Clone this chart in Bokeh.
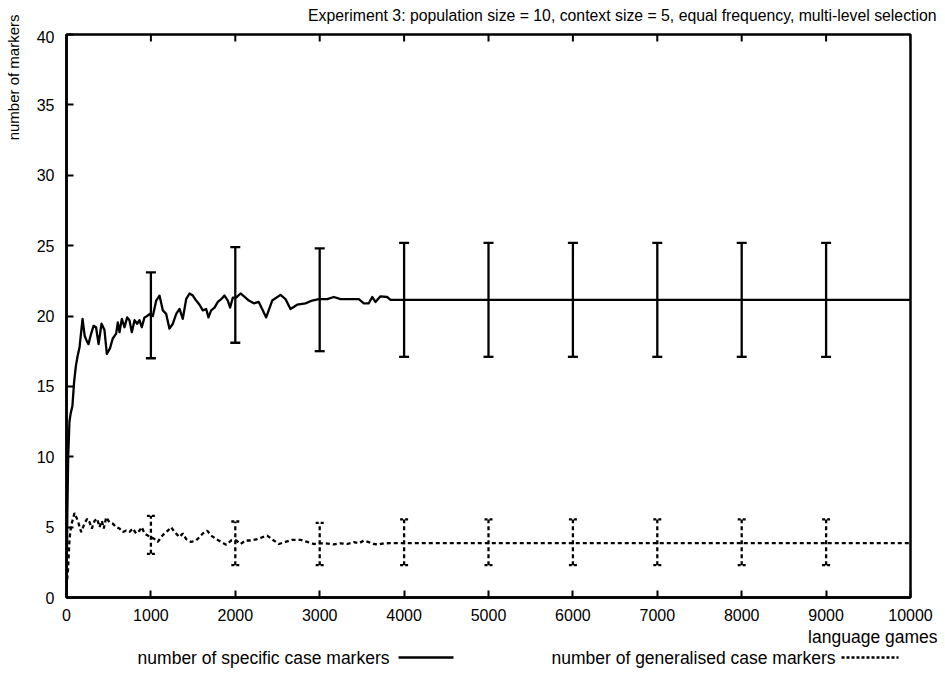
import numpy as np
from bokeh.plotting import figure
from bokeh.models import (Range1d, FixedTicker, Whisker, ColumnDataSource, TeeHead)
from bokeh.layouts import column, row
from bokeh.core.properties import value
from bokeh.embed import file_html
from bokeh.resources import INLINE

FONT = "Liberation Sans"

title_text = "Experiment 3: population size = 10, context size = 5, equal frequency, multi-level selection"
x_label = "language games"
y_label = "number of markers"
series_names = ["number of specific case markers", "number of generalised case markers"]

x_ticks = [0, 1000, 2000, 3000, 4000, 5000, 6000, 7000, 8000, 9000, 10000]
y_ticks = [0, 5, 10, 15, 20, 25, 30, 35, 40]

spec_x = [0, 10, 20, 35, 50, 70, 90, 110, 130, 155,
          190, 215, 235, 260, 290, 320, 350, 380, 415, 450,
          478, 515, 548, 588, 608, 628, 656, 687, 719, 746,
          774, 806, 837, 865, 892, 924, 956, 987, 1023, 1063,
          1102, 1141, 1181, 1220, 1260, 1300, 1339, 1378, 1418, 1457,
          1497, 1536, 1576, 1615, 1655, 1682, 1714, 1754, 1793, 1833,
          1872, 1911, 1939, 1970, 2010, 2062, 2121, 2160, 2219, 2278,
          2318, 2366, 2437, 2536, 2595, 2654, 2733, 2832, 2911, 2990,
          3089, 3168, 3246, 3325, 3365, 3464, 3523, 3582, 3622, 3661,
          3720, 3799, 3839, 4000, 5000, 6000, 7000, 8000, 9000, 10000]
spec_y = [0.5, 6.0, 10.0, 12.5, 13.1, 13.6, 15.3, 16.4, 17.1, 17.8,
          19.8, 18.6, 18.3, 18.0, 18.7, 19.3, 19.2, 18.0, 19.45, 19.0,
          17.3, 17.7, 18.4, 18.75, 19.55, 18.85, 19.8, 19.2, 19.9, 19.7,
          18.85, 19.7, 19.45, 19.7, 19.2, 19.9, 20.0, 20.15, 20.0, 21.1,
          21.45, 20.4, 20.15, 19.1, 19.45, 20.15, 20.5, 19.8, 21.2, 21.6,
          21.45, 21.1, 20.8, 20.4, 20.5, 19.9, 20.4, 20.6, 21.0, 21.2,
          21.45, 21.1, 20.6, 21.3, 21.3, 21.6, 21.3, 21.1, 20.9, 21.0,
          20.5, 19.9, 21.1, 21.5, 21.2, 20.5, 20.8, 20.9, 21.1, 21.2,
          21.2, 21.35, 21.2, 21.2, 21.2, 21.2, 20.9, 20.9, 21.35, 21.0,
          21.4, 21.35, 21.15, 21.15, 21.15, 21.15, 21.15, 21.15, 21.15, 21.15]

gen_x = [0, 16, 36, 55, 95, 134, 174, 213, 245, 273,
         300, 332, 363, 391, 419, 442, 470, 509, 549, 588,
         628, 667, 707, 746, 786, 825, 865, 892, 924, 963,
         995, 1043, 1082, 1122, 1161, 1201, 1240, 1280, 1339, 1378,
         1418, 1477, 1536, 1576, 1615, 1667, 1714, 1773, 1833, 1892,
         1951, 2010, 2062, 2121, 2188, 2259, 2378, 2456, 2516, 2595,
         2674, 2773, 2852, 2930, 2990, 3069, 3168, 3246, 3325, 3404,
         3464, 3523, 3582, 3641, 3700, 3760, 3839, 4000, 5000, 6000,
         7000, 8000, 9000, 10000]
gen_y = [0.8, 1.8, 4.2, 5.1, 6.0, 5.45, 4.65, 5.25, 5.6, 5.35,
         4.9, 5.45, 5.6, 5.0, 5.45, 4.9, 5.7, 5.35, 5.25, 5.0,
         4.9, 4.65, 4.75, 4.65, 4.9, 4.55, 4.75, 5.0, 4.55, 4.4,
         4.3, 4.15, 3.95, 4.3, 4.55, 4.75, 5.0, 4.65, 4.3, 4.55,
         4.15, 3.95, 4.05, 4.3, 4.55, 4.75, 4.4, 4.15, 3.95, 3.75,
         4.05, 4.05, 3.8, 4.05, 4.05, 4.15, 4.4, 4.05, 3.8, 3.95,
         4.1, 4.1, 3.95, 3.8, 3.85, 3.85, 3.77, 3.85, 3.8, 3.93,
         3.85, 4.05, 3.93, 3.8, 3.77, 3.85, 3.86, 3.86, 3.86, 3.86,
         3.86, 3.86, 3.86, 3.86]

err_x = [1000, 2000, 3000, 4000, 5000, 6000, 7000, 8000, 9000]
spec_lo = [17.0, 18.1, 17.5, 17.1, 17.1, 17.1, 17.1, 17.1, 17.1]
spec_hi = [23.1, 24.9, 24.8, 25.2, 25.2, 25.2, 25.2, 25.2, 25.2]
gen_lo = [3.1, 2.3, 2.3, 2.3, 2.3, 2.3, 2.3, 2.3, 2.3]
gen_hi = [5.8, 5.4, 5.3, 5.55, 5.55, 5.55, 5.55, 5.55, 5.55]

DASH = "4 3"
LW = 2.3


def strip(width, height, x0, x1, y0, y1):
    f = figure(width=width, height=height, output_backend="svg", toolbar_location=None,
               x_range=Range1d(x0, x1), y_range=Range1d(y0, y1),
               x_axis_type=None, y_axis_type=None, min_border=0, frame_align=False)
    f.grid.visible = False
    f.outline_line_color = None
    f.background_fill_color = "white"
    f.border_fill_color = "white"
    return f


# ---- main plot -------------------------------------------------------------
p = figure(width=915, height=595, output_backend="svg", toolbar_location=None,
           x_range=Range1d(0, 10000), y_range=Range1d(0, 40),
           min_border_left=36, min_border_right=35, min_border_top=4,
           min_border_bottom=28, frame_align=False)
p.grid.visible = False
p.outline_line_color = "black"
p.outline_line_width = 2.5
p.background_fill_color = "white"
p.border_fill_color = "white"

for ax, tk in [(p.xaxis[0], x_ticks), (p.yaxis[0], y_ticks)]:
    ax.ticker = FixedTicker(ticks=tk)
    ax.major_tick_in = 7
    ax.major_tick_out = 0
    ax.minor_tick_in = 0
    ax.minor_tick_out = 0
    ax.axis_line_width = 2.5
    ax.axis_line_color = "black"
    ax.major_tick_line_width = 2
    ax.major_tick_line_color = "black"
    ax.major_label_text_font = FONT
    ax.major_label_text_font_size = "16px"
    ax.major_label_text_color = "black"
p.xaxis[0].major_label_standoff = 11
p.yaxis[0].major_label_standoff = 12

# mirrored ticks on the top edge
p.ray(x=x_ticks, y=[y_ticks[-1]] * len(x_ticks), length=7, length_units="screen",
      angle=-np.pi / 2, line_color="black", line_width=2)

p.line(spec_x, spec_y, line_color="black", line_width=LW, line_join="round")
p.line(gen_x, gen_y, line_color="black", line_width=LW, line_dash=DASH)

src_s = ColumnDataSource(dict(x=err_x, lo=spec_lo, hi=spec_hi))
src_g = ColumnDataSource(dict(x=err_x, lo=gen_lo, hi=gen_hi))
p.add_layout(Whisker(source=src_s, base="x", lower="lo", upper="hi",
                     line_color="black", line_width=LW,
                     upper_head=TeeHead(size=10, line_width=LW, line_color="black"),
                     lower_head=TeeHead(size=10, line_width=LW, line_color="black")))
p.add_layout(Whisker(source=src_g, base="x", lower="lo", upper="hi",
                     line_color="black", line_width=LW, line_dash=DASH,
                     upper_head=TeeHead(size=8, line_width=LW, line_color="black", line_dash="3 2"),
                     lower_head=TeeHead(size=8, line_width=LW, line_color="black", line_dash="3 2")))

# ---- title strip (page coords) ----------------------------------------------
top = strip(915, 30, 30, 945, 30, 0)
top.text(x=[936], y=[15], text=[title_text], text_align="right", text_baseline="middle",
         text_font=value(FONT), text_font_size="15.8px", text_color="black")

# ---- bottom strip: x label + legend (page coords) -------------------------------
bot = strip(915, 67, 30, 945, 692, 625)
bot.text(x=[937], y=[636], text=[x_label], text_align="right", text_baseline="middle",
         text_font=value(FONT), text_font_size="17.5px", text_color="black")
bot.text(x=[389, 835], y=[657, 657], text=series_names, text_align="right",
         text_baseline="middle", text_font=value(FONT), text_font_size="17.5px",
         text_color="black")
bot.segment(x0=[398], y0=[657], x1=[453], y1=[657], line_color="black", line_width=LW)
bot.segment(x0=[841], y0=[657], x1=[898], y1=[657], line_color="black", line_width=LW,
            line_dash="3 2")

# ---- left strip: y label (page coords) ----------------------------------------
left = strip(30, 692, 0, 30, 692, 0)
left.text(x=[13], y=[14], text=[y_label], angle=np.pi / 2, text_align="right",
          text_baseline="middle", text_font=value(FONT), text_font_size="15px",
          text_color="black")

layout = row(left, column(top, p, bot, spacing=0), spacing=0)
open("out.html", "w").write(file_html(layout, INLINE))
